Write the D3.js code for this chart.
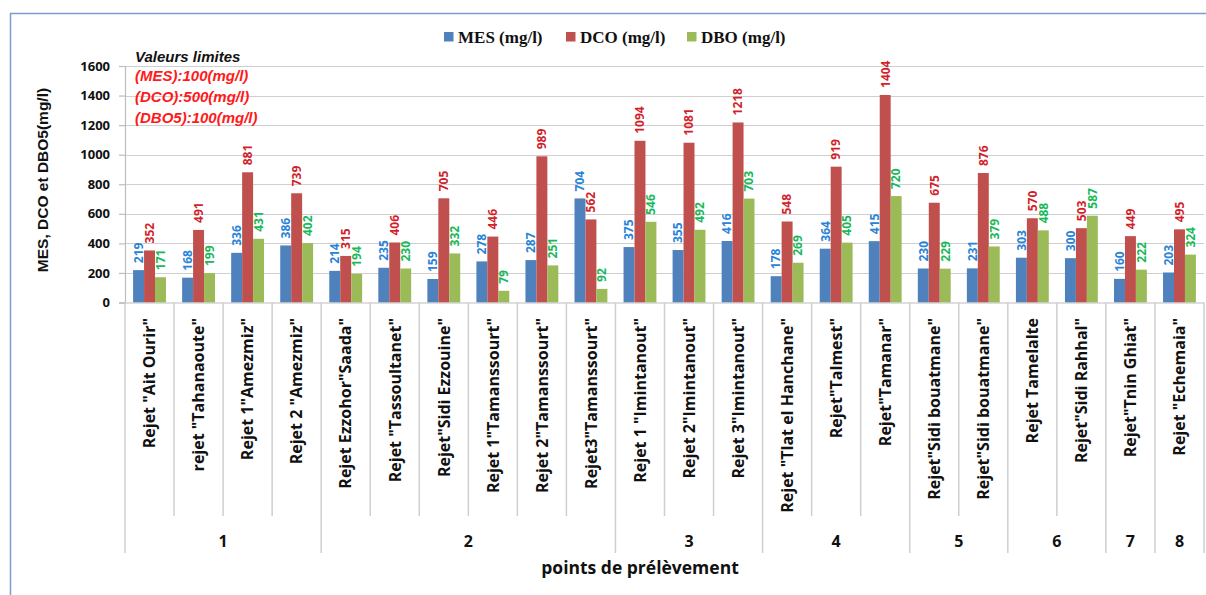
<!DOCTYPE html>
<html>
<head>
<meta charset="utf-8">
<script src="https://cdn.jsdelivr.net/npm/d3@7/dist/d3.min.js"></script>
<style>
  html, body { margin: 0; padding: 0; background: #fff; }
  svg { display: block; font-family: "Open Sans", "Liberation Sans", Arial, sans-serif; }
</style>
</head>
<body>
<svg id="chart" width="1206" height="595"></svg>
<script>
// Sampling points (rejets) and the zone they belong to
const categories = [
  'Rejet "Ait Ourir"', 'rejet "Tahanaoute"', 'Rejet 1"Amezmiz"', 'Rejet 2 "Amezmiz"',
  'Rejet Ezzohor"Saada"', 'Rejet "Tassoultanet"', 'Rejet"Sidi Ezzouine"', 'Rejet 1"Tamanssourt"',
  'Rejet 2"Tamanssourt"', 'Rejet3"Tamanssourt"', 'Rejet 1 "Imintanout"', 'Rejet 2"Imintanout"',
  'Rejet 3"Imintanout"', 'Rejet "Tlat el Hanchane"', 'Rejet"Talmest"', 'Rejet"Tamanar"',
  'Rejet"Sidi bouatmane"', 'Rejet"Sidi bouatmane"', 'Rejet Tamelalte', 'Rejet"Sidi Rahhal"',
  'Rejet"Tnin Ghiat"', 'Rejet "Echemaia"'
];
const groupLabels = ["1", "2", "3", "4", "5", "6", "7", "8"];
const groupSizes  = [4, 6, 3, 3, 2, 2, 1, 1];

// Measured concentrations (mg/l)
const mes = [219, 168, 336, 386, 214, 235, 159, 278, 287, 704, 375, 355, 416, 178, 364, 415, 230, 231, 303, 300, 160, 203];
const dco = [352, 491, 881, 739, 315, 406, 705, 446, 989, 562, 1094, 1081, 1218, 548, 919, 1404, 675, 876, 570, 503, 449, 495];
const dbo = [171, 199, 431, 402, 194, 230, 332, 79, 251, 92, 546, 492, 703, 269, 405, 720, 229, 379, 488, 587, 222, 324];

const seriesNames = ["MES (mg/l)", "DCO (mg/l)", "DBO (mg/l)"];
const yTicks = [0, 200, 400, 600, 800, 1000, 1200, 1400, 1600];
const limitTitle = "Valeurs limites";
const limitLines = ["(MES):100(mg/l)", "(DCO):500(mg/l)", "(DBO5):100(mg/l)"];

const seriesValues = [mes, dco, dbo];
const barColors   = ["#4f81bd", "#c0504d", "#9bbb59"];
const labelColors = ["#2784d8", "#d21f2b", "#19b957"];

const svg = d3.select("#chart");
const W = 1206, H = 595;
const plot = { left: 125, right: 1204, top: 66, bottom: 302.5 };

// Outer frame (top and left edges)
svg.append("path")
  .attr("d", `M10.5,${H} V13.5 H${W}`)
  .attr("fill", "none").attr("stroke", "#7d9dd0").attr("stroke-width", 1.5);

const x = d3.scaleBand()
  .domain(d3.range(categories.length))
  .range([plot.left, plot.right])
  .paddingInner(0.33).paddingOuter(0.165);
const xs = d3.scaleBand().domain(d3.range(3)).range([0, x.bandwidth()]);
const y = d3.scaleLinear().domain([0, 1600]).range([plot.bottom, plot.top]);

// Gridlines
svg.append("g").selectAll("line").data(yTicks.filter(d => d > 0)).join("line")
  .attr("x1", plot.left).attr("x2", plot.right)
  .attr("y1", d => Math.round(y(d)) + 0.5).attr("y2", d => Math.round(y(d)) + 0.5)
  .attr("stroke", "#cfcfcf").attr("stroke-width", 1.2);

// Y axis
const yAxis = svg.append("g")
  .attr("transform", `translate(${plot.left},0)`)
  .call(d3.axisLeft(y).tickValues(yTicks).tickSize(6).tickPadding(9).tickFormat(d3.format("d")));
yAxis.select(".domain").attr("stroke", "#bdbdbd").attr("stroke-width", 1.2);
yAxis.selectAll(".tick line").attr("stroke", "#bdbdbd").attr("stroke-width", 1.2);
yAxis.selectAll(".tick text")
  .attr("font-family", "'Open Sans', 'Liberation Sans', sans-serif")
  .attr("font-size", 13).attr("font-weight", "bold").attr("fill", "#111");

// Bars
const barData = [];
seriesValues.forEach((vals, s) => vals.forEach((v, i) => barData.push({ i, s, v })));
svg.append("g").selectAll("rect").data(barData).join("rect")
  .attr("x", d => x(d.i) + xs(d.s))
  .attr("width", xs.bandwidth())
  .attr("y", d => y(d.v))
  .attr("height", d => plot.bottom - y(d.v))
  .attr("fill", d => barColors[d.s]);

// Value labels (rotated, above each bar)
svg.append("g").selectAll("text").data(barData).join("text")
  .attr("transform", d => `translate(${x(d.i) + xs(d.s) + xs.bandwidth() / 2},${y(d.v) - 7}) rotate(-90)`)
  .attr("dy", "0.36em")
  .attr("text-anchor", "start")
  .attr("font-size", 12).attr("font-weight", "bold")
  .attr("fill", d => labelColors[d.s])
  .text(d => d.v);

// X axis baseline
svg.append("line")
  .attr("x1", plot.left - 6).attr("x2", plot.right)
  .attr("y1", plot.bottom + 0.5).attr("y2", plot.bottom + 0.5)
  .attr("stroke", "#bdbdbd").attr("stroke-width", 1.2);

// Category dividers and labels
const step = x.step();
const catEdges = d3.range(categories.length + 1).map(i => plot.left + i * step);
const groupStarts = [0];
groupSizes.forEach(n => groupStarts.push(groupStarts[groupStarts.length - 1] + n));
const isGroupEdge = new Set(groupStarts);

svg.append("g").selectAll("line").data(catEdges.map((e, i) => ({ e, i }))).join("line")
  .attr("x1", d => d.e).attr("x2", d => d.e)
  .attr("y1", plot.bottom)
  .attr("y2", d => isGroupEdge.has(d.i) ? 553 : 516)
  .attr("stroke", "#cfcfcf").attr("stroke-width", 1.5);

svg.append("g").selectAll("text").data(categories).join("text")
  .attr("transform", (d, i) => `translate(${x(i) + x.bandwidth() / 2},318) rotate(-90)`)
  .attr("dy", "0.36em")
  .attr("text-anchor", "end")
  .attr("font-size", 16).attr("font-weight", "bold").attr("fill", "#111")
  .text(d => d);

// Zone labels
svg.append("g").selectAll("text").data(groupLabels).join("text")
  .attr("x", (d, g) => (catEdges[groupStarts[g]] + catEdges[groupStarts[g + 1]]) / 2)
  .attr("y", 547)
  .attr("text-anchor", "middle")
  .attr("font-size", 16).attr("font-weight", "bold").attr("fill", "#111")
  .text(d => d);

// Axis titles
svg.append("text")
  .attr("x", 640).attr("y", 574)
  .attr("text-anchor", "middle")
  .attr("font-size", 17.5).attr("font-weight", "bold").attr("fill", "#111")
  .text("points de prélèvement");

svg.append("text")
  .attr("transform", "translate(42,180) rotate(-90)")
  .attr("dy", "0.36em")
  .attr("text-anchor", "middle")
  .attr("font-family", "'Liberation Sans', Arial, sans-serif")
  .attr("font-size", 15.5).attr("font-weight", "bold").attr("fill", "#111")
  .text("MES, DCO et DBO5(mg/l)");

// Legend
const legendX = [444, 566, 687];
const legend = svg.append("g").selectAll("g").data(seriesNames).join("g")
  .attr("transform", (d, i) => `translate(${legendX[i]},0)`);
legend.append("rect")
  .attr("x", 0).attr("y", 32).attr("width", 9.5).attr("height", 9.5)
  .attr("fill", (d, i) => barColors[i]);
legend.append("text")
  .attr("x", 14).attr("y", 42.5)
  .attr("font-family", "Liberation Serif, 'DejaVu Serif', serif")
  .attr("font-size", 17).attr("font-weight", "bold").attr("fill", "#111")
  .text(d => d);

// Regulatory limit notes
const notes = svg.append("g")
  .attr("font-family", "'Liberation Sans', Arial, sans-serif")
  .attr("font-style", "italic").attr("font-weight", "bold").attr("font-size", 15);
notes.append("text").attr("x", 135).attr("y", 62).attr("fill", "#111").text(limitTitle);
notes.selectAll("text.lim").data(limitLines).join("text").attr("class", "lim")
  .attr("x", 135).attr("y", (d, i) => 81 + i * 21)
  .attr("fill", "#ff1a1a")
  .text(d => d);
</script>
</body>
</html>
